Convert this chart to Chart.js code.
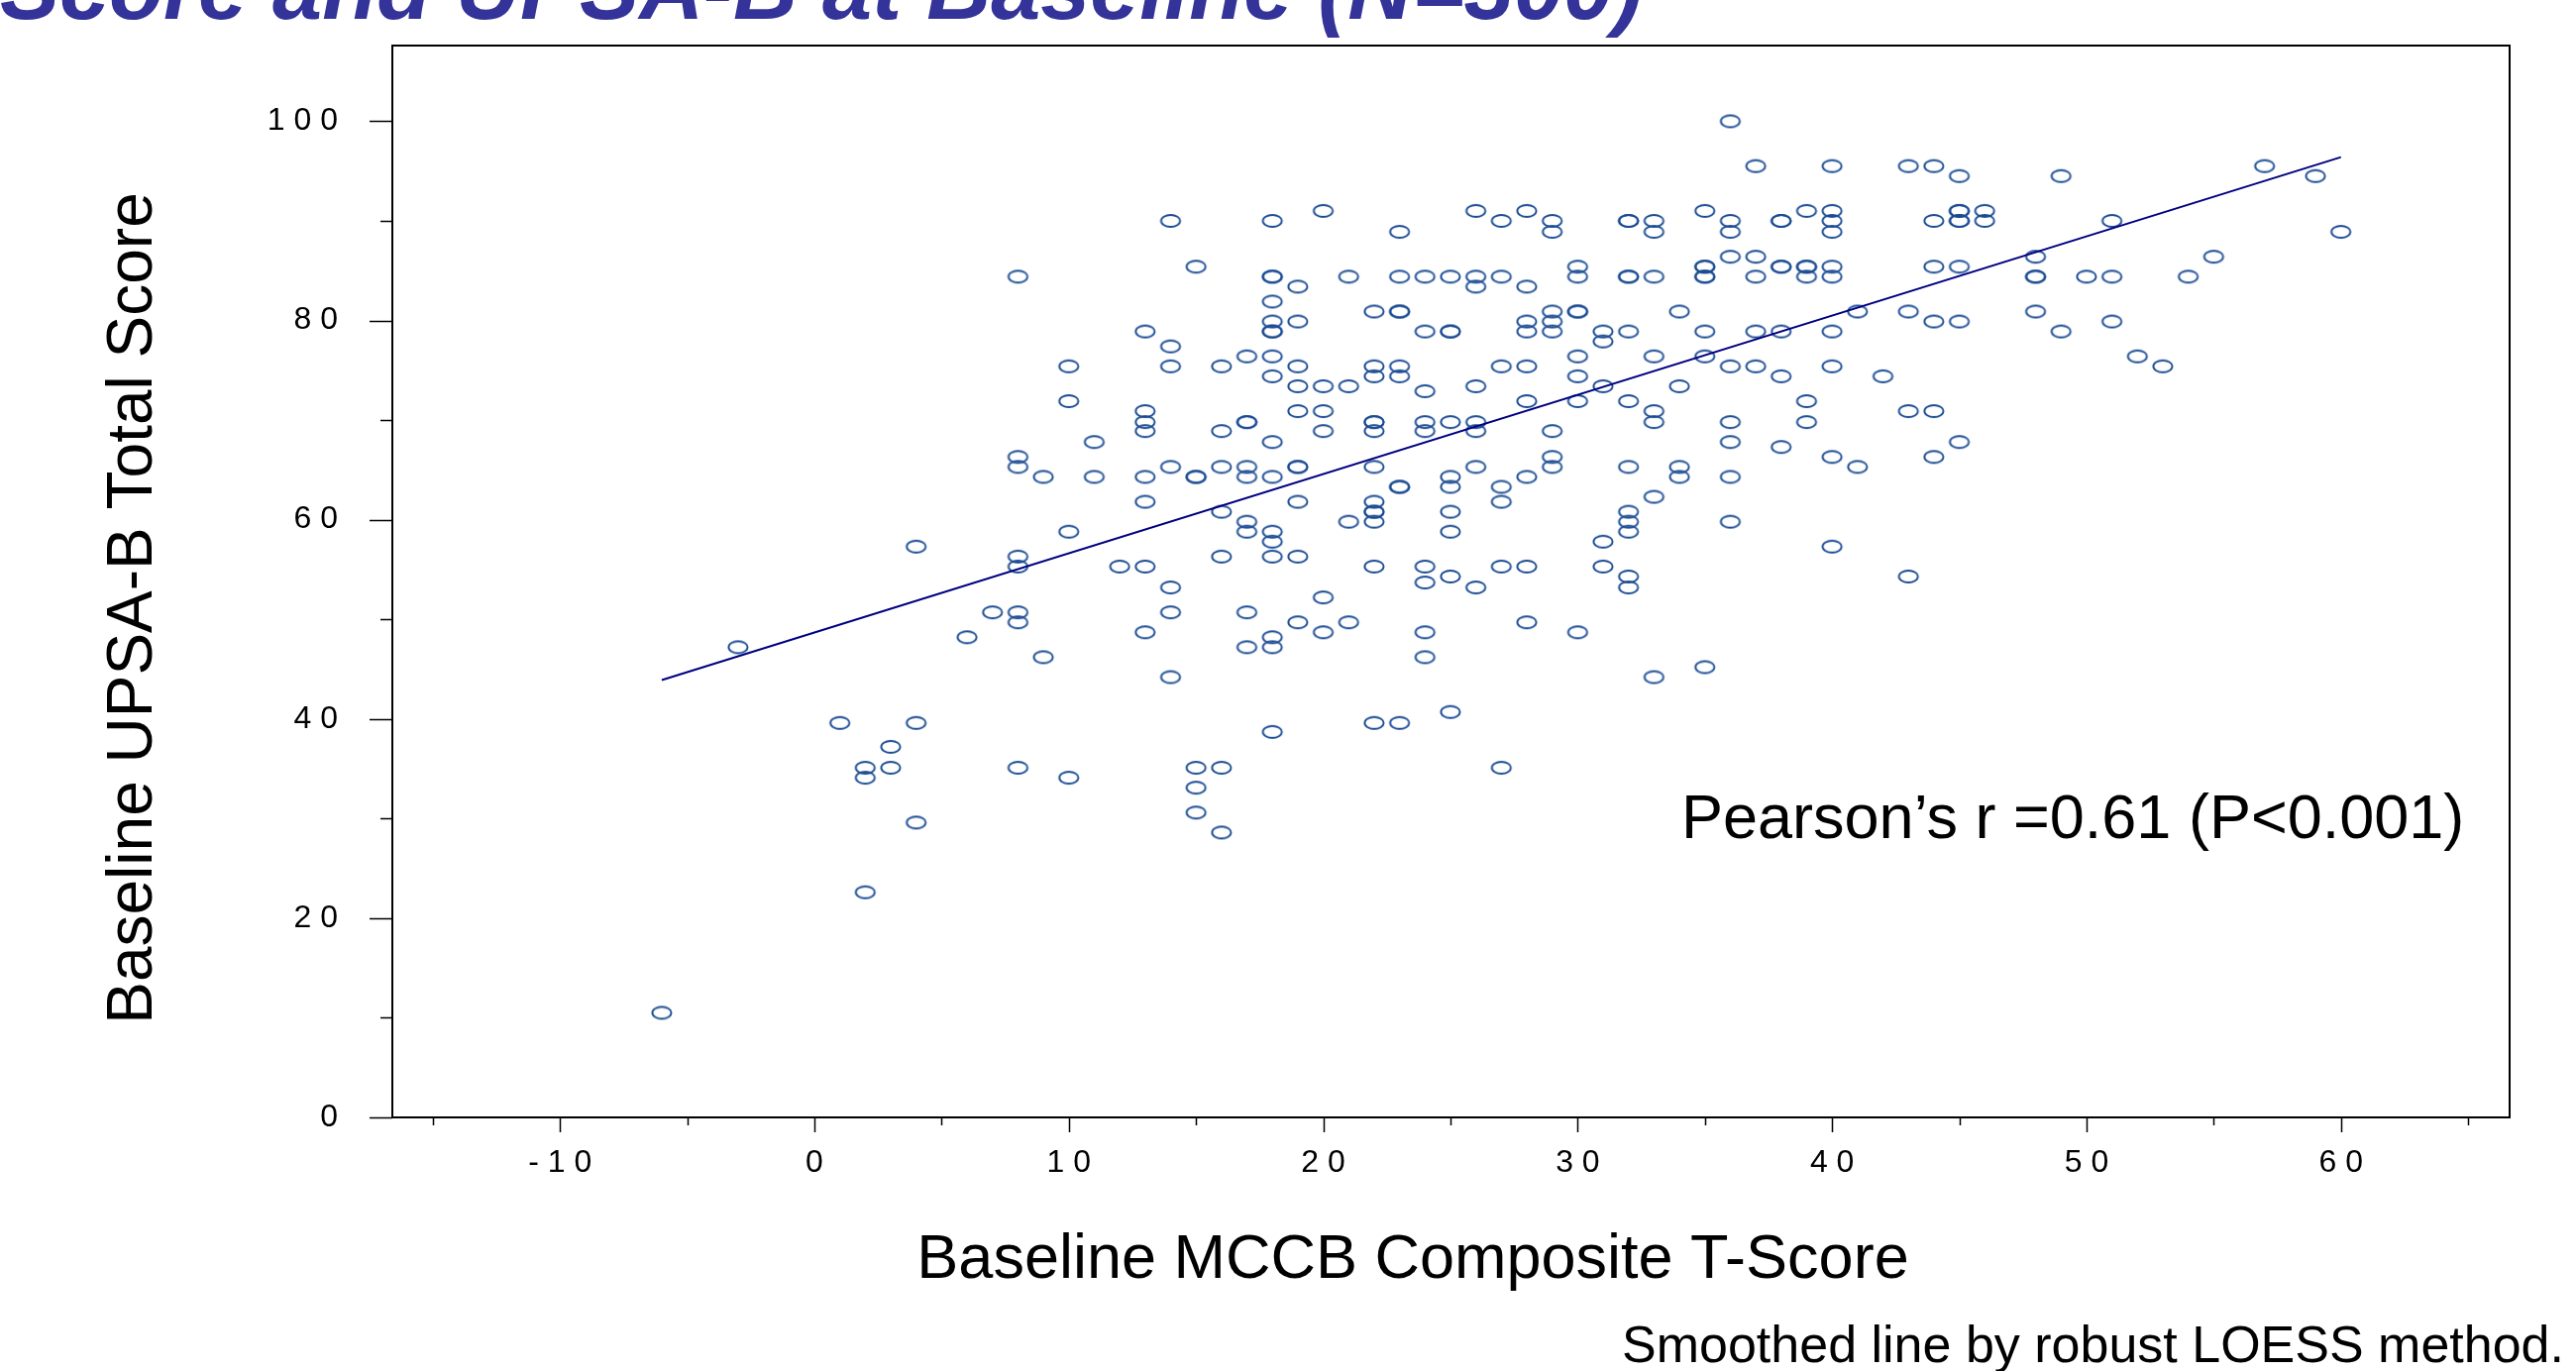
<!DOCTYPE html>
<html>
<head>
<meta charset="utf-8">
<script src="https://cdn.jsdelivr.net/npm/chart.js@4.4.0/dist/chart.umd.min.js"></script>
<style>
    html, body { margin: 0; padding: 0; background: #fff; }
    #chart-container { width: 2600px; height: 1384px; }
</style>
</head>
<body>
<div id="chart-container"><canvas id="myChart" width="2600" height="1384"></canvas></div>
<script>
// MCCB composite T-score columns and the UPSA-B scores read at each of them
const mccbColumns = [-6, -3, 1, 2, 3, 4, 6, 7, 8, 9, 10, 11, 12,
    13, 14, 15, 16, 17, 18, 19, 20, 21, 22, 23, 24, 25, 26, 27, 28, 29, 30,
    31, 32, 33, 34, 35, 36, 37, 38, 39, 40, 41, 42, 43, 44, 45, 46,
    48, 49, 50, 51, 52, 53, 54, 55, 57, 59, 60];
const upsaByColumn = [
    [10.5],
    [47.2],
    [39.6],
    [35.1, 34.1, 22.6],
    [37.2, 35.1],
    [57.3, 39.6, 29.6],
    [48.2],
    [50.7],
    [84.4, 66.3, 65.3, 56.3, 55.3, 50.7, 49.7, 35.1],
    [64.3, 46.2],
    [75.4, 71.9, 58.8, 34.1],
    [67.8, 64.3],
    [55.3],
    [78.9, 70.9, 69.8, 68.9, 64.3, 61.8, 55.3, 48.7],
    [90.0, 77.4, 75.4, 65.3, 53.2, 50.7, 44.2],
    [85.4, 64.3, 64.3, 35.1, 33.1, 30.6],
    [75.4, 68.9, 65.3, 60.8, 56.3, 35.1, 28.6],
    [76.4, 69.8, 69.8, 65.3, 64.3, 59.8, 58.8, 50.7, 47.2],
    [90.0, 84.4, 84.4, 81.9, 79.9, 78.9, 78.9, 76.4, 74.4, 67.8, 64.3, 58.8, 57.8, 56.3, 48.2, 47.2, 38.7],
    [83.4, 79.9, 75.4, 73.4, 70.9, 65.3, 65.3, 61.8, 56.3, 49.7],
    [91.0, 73.4, 70.9, 68.9, 52.2, 48.7],
    [84.4, 73.4, 59.8, 49.7],
    [80.9, 75.4, 74.4, 69.8, 69.8, 68.9, 65.3, 61.8, 60.8, 60.8, 59.8, 55.3, 39.6],
    [88.9, 84.4, 80.9, 80.9, 75.4, 74.4, 63.3, 63.3, 39.6],
    [84.4, 78.9, 72.9, 69.8, 68.9, 55.3, 53.7, 48.7, 46.2],
    [84.4, 78.9, 78.9, 69.8, 64.3, 63.3, 60.8, 58.8, 54.3, 40.7],
    [91.0, 84.4, 83.4, 73.4, 69.8, 68.9, 65.3, 53.2],
    [90.0, 84.4, 75.4, 63.3, 61.8, 55.3, 35.1],
    [91.0, 83.4, 79.9, 78.9, 75.4, 71.9, 64.3, 55.3, 49.7],
    [90.0, 88.9, 80.9, 79.9, 78.9, 68.9, 66.3, 65.3],
    [85.4, 84.4, 80.9, 80.9, 76.4, 74.4, 71.9, 48.7],
    [78.9, 77.9, 73.4, 57.8, 55.3],
    [90.0, 90.0, 84.4, 84.4, 78.9, 71.9, 65.3, 60.8, 59.8, 58.8, 54.3, 53.2],
    [90.0, 88.9, 84.4, 76.4, 70.9, 69.8, 62.3, 44.2],
    [80.9, 73.4, 65.3, 64.3],
    [91.0, 85.4, 85.4, 84.4, 84.4, 78.9, 76.4, 45.2],
    [100.0, 90.0, 88.9, 86.4, 75.4, 69.8, 67.8, 64.3, 59.8],
    [95.5, 86.4, 84.4, 78.9, 75.4],
    [90.0, 90.0, 85.4, 85.4, 78.9, 74.4, 67.3],
    [91.0, 85.4, 85.4, 84.4, 71.9, 69.8],
    [95.5, 91.0, 90.0, 88.9, 85.4, 84.4, 78.9, 75.4, 66.3, 57.3],
    [80.9, 65.3],
    [74.4],
    [95.5, 80.9, 70.9, 54.3],
    [95.5, 90.0, 85.4, 79.9, 70.9, 66.3],
    [94.5, 91.0, 91.0, 90.0, 90.0, 85.4, 79.9, 67.8],
    [91.0, 90.0],
    [86.4, 84.4, 84.4, 80.9],
    [94.5, 78.9],
    [84.4],
    [90.0, 84.4, 79.9],
    [76.4],
    [75.4],
    [84.4],
    [86.4],
    [95.5],
    [94.5],
    [88.9],
];

// smoothed (LOESS) line end points
const fitX = [-6, 60];
const fitY = [43.9, 96.4];

const xMajorTicks = [-10, 0, 10, 20, 30, 40, 50, 60];
const xMinorTicks = [-15, -5, 5, 15, 25, 35, 45, 55, 65];
const yMajorTicks = [0, 20, 40, 60, 80, 100];
const yMinorTicks = [10, 30, 50, 70, 90];

const FONT = "'Liberation Sans', Arial, sans-serif";

const spaced = (v) => String(v).split("").join(" ");

const makeRing = () => {
    const c = document.createElement("canvas");
    c.width = 24;
    c.height = 16;
    const g = c.getContext("2d");
    g.strokeStyle = "#1a4b92";
    g.lineWidth = 1.9;
    g.beginPath();
    g.ellipse(12, 8, 9.6, 6, 0, 0, Math.PI * 2);
    g.stroke();
    return c;
};

const getPoints = () => {
    let points = [];
    mccbColumns.forEach((x, i) => {
        upsaByColumn[i].forEach((y) => points.push({ x: x, y: y }));
    });
    return points;
};

const framePlugin = {
    id: "frame",
    afterDatasetsDraw(chart) {
        const { ctx, chartArea: a, scales } = chart;
        ctx.save();
        ctx.strokeStyle = "#000";
        ctx.lineWidth = 2;
        ctx.strokeRect(a.left, a.top, a.right - a.left, a.bottom - a.top);
        ctx.lineWidth = 1.5;
        ctx.beginPath();
        xMajorTicks.forEach((v) => {
            const px = Math.round(scales.x.getPixelForValue(v)) + 0.5;
            ctx.moveTo(px, a.bottom);
            ctx.lineTo(px, a.bottom + 15);
        });
        xMinorTicks.forEach((v) => {
            const px = Math.round(scales.x.getPixelForValue(v)) + 0.5;
            ctx.moveTo(px, a.bottom);
            ctx.lineTo(px, a.bottom + 8);
        });
        yMajorTicks.forEach((v) => {
            const py = Math.round(scales.y.getPixelForValue(v)) + 0.5;
            ctx.moveTo(a.left, py);
            ctx.lineTo(a.left - 23, py);
        });
        yMinorTicks.forEach((v) => {
            const py = Math.round(scales.y.getPixelForValue(v)) + 0.5;
            ctx.moveTo(a.left, py);
            ctx.lineTo(a.left - 12, py);
        });
        ctx.stroke();
        ctx.restore();
    },
};

const textPlugin = {
    id: "texts",
    afterDraw(chart) {
        const ctx = chart.ctx;
        ctx.save();
        ctx.fillStyle = "#333399";
        ctx.font = "italic bold 90px " + FONT;
        ctx.textAlign = "right";
        ctx.textBaseline = "alphabetic";
        ctx.fillText("Score and UPSA-B at Baseline (N=300)", 1658, 19);

        ctx.fillStyle = "#000";
        ctx.font = "63px " + FONT;
        ctx.textAlign = "center";
        ctx.fillText("Baseline MCCB Composite T-Score", 1426, 1290);

        ctx.save();
        ctx.font = "64px " + FONT;
        ctx.translate(153, 614);
        ctx.rotate(-Math.PI / 2);
        ctx.fillText("Baseline UPSA-B Total Score", 0, 0);
        ctx.restore();

        ctx.textAlign = "left";
        ctx.font = "63px " + FONT;
        ctx.fillText("Pearson\u2019s r =0.61 (P<0.001)", 1697, 846);

        ctx.font = "52px " + FONT;
        ctx.fillText("Smoothed line by robust LOESS method.", 1637, 1375);
        ctx.restore();
    },
};

const drawChart = () => {
    const data = {
        datasets: [
            {
                label: "LOESS",
                data: fitX.map((x, i) => ({ x: x, y: fitY[i] })),
                showLine: true,
                borderColor: "#000080",
                borderWidth: 2,
                pointRadius: 0,
                fill: false,
            },
            {
                label: "Patients",
                data: getPoints(),
                pointStyle: makeRing(),
                pointRadius: 9,
            },
        ],
    };
    const hiddenTicks = (len) => ({
        display: true,
        drawOnChartArea: false,
        drawTicks: true,
        tickLength: len,
        tickColor: "rgba(0,0,0,0)",
    });
    const config = {
        type: "scatter",
        data: data,
        options: {
            responsive: false,
            animation: false,
            events: [],
            devicePixelRatio: 1,
            layout: { padding: { top: 46, right: 67, bottom: 0, left: 0 } },
            plugins: {
                legend: { display: false },
                tooltip: { enabled: false },
            },
            scales: {
                x: {
                    type: "linear",
                    min: -16.59,
                    max: 66.63,
                    grid: hiddenTicks(27),
                    border: { display: false },
                    afterFit: (scale) => { scale.height = 256; },
                    afterBuildTicks: (scale) => {
                        scale.ticks = xMajorTicks.map((v) => ({ value: v }));
                    },
                    ticks: {
                        autoSkip: false,
                        maxRotation: 0,
                        padding: 0,
                        color: "#000",
                        font: { family: FONT, size: 32 },
                        callback: (v) => spaced(v),
                    },
                },
                y: {
                    type: "linear",
                    min: 0,
                    max: 107.6,
                    grid: hiddenTicks(55),
                    border: { display: false },
                    afterFit: (scale) => { scale.width = 396; },
                    afterBuildTicks: (scale) => {
                        scale.ticks = yMajorTicks.map((v) => ({ value: v }));
                    },
                    ticks: {
                        autoSkip: false,
                        padding: 0,
                        color: "#000",
                        font: { family: FONT, size: 32 },
                        callback: (v) => spaced(v),
                    },
                },
            },
        },
        plugins: [framePlugin, textPlugin],
    };
    const myChart = new Chart(document.getElementById("myChart"), config);
};

drawChart();
</script>
</body>
</html>
